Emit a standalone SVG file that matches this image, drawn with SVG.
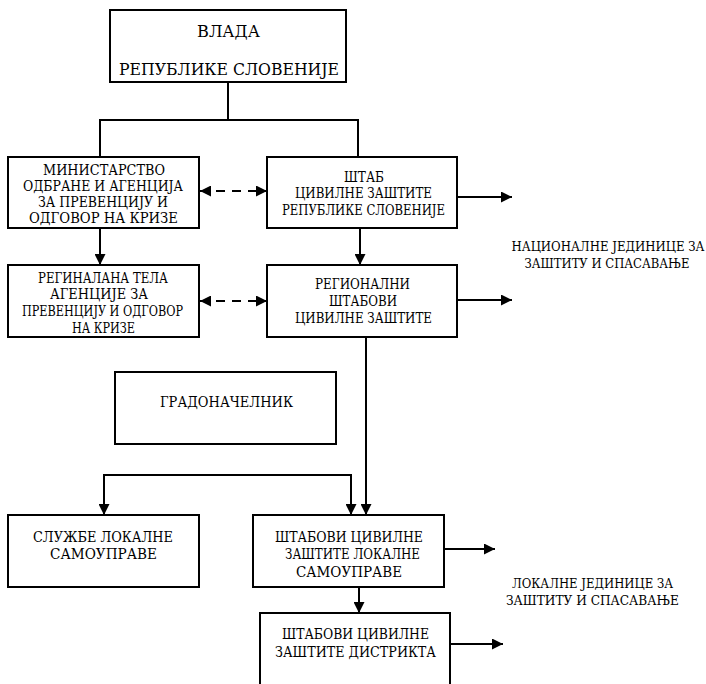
<svg xmlns="http://www.w3.org/2000/svg" width="706" height="684" viewBox="0 0 706 684">
<style>
.box{fill:#fff;stroke:#000;stroke-width:2}
.t{font-family:"DejaVu Serif",serif;font-size:14px;fill:#000;text-anchor:middle}
.big{font-size:17.5px}
.lbl{font-size:13px}
.ln{fill:none;stroke:#000;stroke-width:2}
.dash{stroke-dasharray:9 7}
</style>
<defs>
<marker id="ah" markerUnits="userSpaceOnUse" markerWidth="11" markerHeight="11" refX="11" refY="5.5" orient="auto-start-reverse" viewBox="0 0 11 11">
<path d="M0,0 L11,5.5 L0,11 z" fill="#000"/>
</marker>
</defs>
<rect width="706" height="684" fill="#fff"/>
<g id="connectors">
<polyline class="ln" points="228,82 228,120"/>
<polyline class="ln" points="100,157 100,120 358,120 358,157"/>
<line class="ln" x1="100" y1="228" x2="100" y2="265" marker-end="url(#ah)"/>
<line class="ln" x1="360" y1="228" x2="360" y2="265" marker-end="url(#ah)"/>
<line class="ln dash" x1="200" y1="191" x2="267" y2="191" marker-start="url(#ah)" marker-end="url(#ah)"/>
<line class="ln dash" x1="200" y1="301" x2="267" y2="301" marker-start="url(#ah)" marker-end="url(#ah)"/>
<line class="ln" x1="457" y1="197" x2="512" y2="197" marker-end="url(#ah)"/>
<line class="ln" x1="457" y1="300" x2="512" y2="300" marker-end="url(#ah)"/>
<line class="ln" x1="366" y1="337" x2="366" y2="515" marker-end="url(#ah)"/>
<polyline class="ln" points="104,515 104,475 351,475 351,515" marker-start="url(#ah)" marker-end="url(#ah)"/>
<line class="ln" x1="444" y1="549" x2="495" y2="549" marker-end="url(#ah)"/>
<line class="ln" x1="359" y1="587" x2="359" y2="613" marker-end="url(#ah)"/>
<line class="ln" x1="450" y1="644" x2="503" y2="644" marker-end="url(#ah)"/>
</g>
<g id="vlada">
<rect class="box" x="110" y="10" width="236" height="72"/>
<text class="t big" x="228.5" y="37" textLength="63" lengthAdjust="spacingAndGlyphs">ВЛАДА</text>
<text class="t big" x="229" y="75" textLength="220" lengthAdjust="spacingAndGlyphs">РЕПУБЛИКЕ СЛОВЕНИЈЕ</text>
</g>
<g id="ministarstvo">
<rect class="box" x="8" y="157" width="191" height="71"/>
<text class="t" x="104" y="175" textLength="122" lengthAdjust="spacingAndGlyphs">МИНИСТАРСТВО</text>
<text class="t" x="103" y="191" textLength="160" lengthAdjust="spacingAndGlyphs">ОДБРАНЕ И АГЕНЦИЈА</text>
<text class="t" x="103" y="207" textLength="130" lengthAdjust="spacingAndGlyphs">ЗА ПРЕВЕНЦИЈУ И</text>
<text class="t" x="103.5" y="223" textLength="149" lengthAdjust="spacingAndGlyphs">ОДГОВОР НА КРИЗЕ</text>
</g>
<g id="stab">
<rect class="box" x="267" y="157" width="190" height="71"/>
<text class="t" x="364" y="182" textLength="40" lengthAdjust="spacingAndGlyphs">ШТАБ</text>
<text class="t" x="363.5" y="198" textLength="137" lengthAdjust="spacingAndGlyphs">ЦИВИЛНЕ ЗАШТИТЕ</text>
<text class="t" x="363.5" y="215" textLength="163" lengthAdjust="spacingAndGlyphs">РЕПУБЛИКЕ СЛОВЕНИЈЕ</text>
</g>
<g id="regionalna-tela">
<rect class="box" x="8" y="265" width="191" height="72"/>
<text class="t" x="103" y="283" textLength="130" lengthAdjust="spacingAndGlyphs">РЕГИНАЛАНА ТЕЛА</text>
<text class="t" x="99" y="299" textLength="98" lengthAdjust="spacingAndGlyphs">АГЕНЦИЈЕ ЗА</text>
<text class="t" x="102.5" y="316" textLength="161" lengthAdjust="spacingAndGlyphs">ПРЕВЕНЦИЈУ И ОДГОВОР</text>
<text class="t" x="103.5" y="333" textLength="63" lengthAdjust="spacingAndGlyphs">НА КРИЗЕ</text>
</g>
<g id="regionalni-stabovi">
<rect class="box" x="267" y="265" width="190" height="72"/>
<text class="t" x="362.5" y="289" textLength="95" lengthAdjust="spacingAndGlyphs">РЕГИОНАЛНИ</text>
<text class="t" x="363" y="306" textLength="68" lengthAdjust="spacingAndGlyphs">ШТАБОВИ</text>
<text class="t" x="363.5" y="323" textLength="137" lengthAdjust="spacingAndGlyphs">ЦИВИЛНЕ ЗАШТИТЕ</text>
</g>
<g id="nacionalne">
<text class="t lbl" x="608" y="251" textLength="193" lengthAdjust="spacingAndGlyphs">НАЦИОНАЛНЕ ЈЕДИНИЦЕ ЗА</text>
<text class="t lbl" x="607" y="268" textLength="165" lengthAdjust="spacingAndGlyphs">ЗАШТИТУ И СПАСАВАЊЕ</text>
</g>
<g id="gradonacelnik">
<rect class="box" x="115" y="372" width="221" height="72"/>
<text class="t" x="226.5" y="407" textLength="133" lengthAdjust="spacingAndGlyphs">ГРАДОНАЧЕЛНИК</text>
</g>
<g id="sluzbe">
<rect class="box" x="8" y="515" width="191" height="72"/>
<text class="t" x="103" y="542" textLength="140" lengthAdjust="spacingAndGlyphs">СЛУЖБЕ ЛОКАЛНЕ</text>
<text class="t" x="103.5" y="559" textLength="107" lengthAdjust="spacingAndGlyphs">САМОУПРАВЕ</text>
</g>
<g id="stabovi-lokalne">
<rect class="box" x="253" y="515" width="191" height="72"/>
<text class="t" x="349" y="542" textLength="148" lengthAdjust="spacingAndGlyphs">ШТАБОВИ ЦИВИЛНЕ</text>
<text class="t" x="352.5" y="559" textLength="135" lengthAdjust="spacingAndGlyphs">ЗАШТИТЕ ЛОКАЛНЕ</text>
<text class="t" x="349" y="577" textLength="106" lengthAdjust="spacingAndGlyphs">САМОУПРАВЕ</text>
</g>
<g id="lokalne">
<text class="t lbl" x="592.5" y="588" textLength="161" lengthAdjust="spacingAndGlyphs">ЛОКАЛНЕ ЈЕДИНИЦЕ ЗА</text>
<text class="t lbl" x="592.5" y="605" textLength="173" lengthAdjust="spacingAndGlyphs">ЗАШТИТУ И СПАСАВАЊЕ</text>
</g>
<g id="stabovi-distrikta">
<rect class="box" x="260" y="613" width="190" height="80"/>
<text class="t" x="355.5" y="639" textLength="147" lengthAdjust="spacingAndGlyphs">ШТАБОВИ ЦИВИЛНЕ</text>
<text class="t" x="355.5" y="657" textLength="161" lengthAdjust="spacingAndGlyphs">ЗАШТИТЕ ДИСТРИКТА</text>
</g>
</svg>
